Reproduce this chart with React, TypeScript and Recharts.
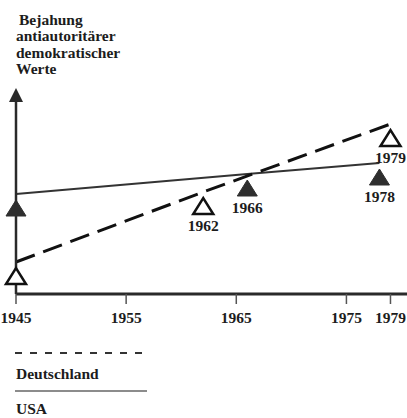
import React from 'react';
import { LineChart, Line, XAxis, YAxis, Customized } from 'recharts';

// ---- data ----
const deutschlandYears = [1945, 1962, 1979];
const deutschlandValues = [16, 51, 85];
const usaYears = [1945, 1966, 1978];
const usaValues = [50, 60, 65.5];
const xTicks = [1945, 1955, 1965, 1975, 1979];
const titleLines = ['Bejahung', 'antiautoritärer', 'demokratischer', 'Werte'];
const seriesNames = ['Deutschland', 'USA'];

const deutschlandData = deutschlandYears.map((year, i) => ({ year, value: deutschlandValues[i] }));
const usaData = usaYears.map((year, i) => ({ year, value: usaValues[i] }));

// ---- layout / style ----
const W = 407;
const H = 418;
const MARGIN = { top: 94, right: 0, bottom: 94, left: 0 };
const Y_AXIS_W = 16;
const FONT = '"Liberation Serif", "Times New Roman", serif';
const INK = '#1c1c1c';

const makeTriangleDot = (filled: boolean) => (props: any) => {
  const { cx, cy, payload, index } = props;
  if (cx == null || cy == null) return <g key={`n-${index}`} />;
  const apex = cy + 6;
  const base = cy + 22;
  const hw = 10;
  return (
    <g key={`t-${filled ? 'f' : 'h'}-${index}`}>
      <polygon
        points={`${cx - hw},${base} ${cx + hw},${base} ${cx},${apex}`}
        fill={filled ? '#2e2e2e' : '#ffffff'}
        stroke={filled ? '#2e2e2e' : '#111'}
        strokeWidth={filled ? 1 : 2.5}
        strokeLinejoin="miter"
      />
      {index > 0 && (
        <text
          x={cx}
          y={base + 17}
          textAnchor="middle"
          fontFamily={FONT}
          fontWeight={700}
          fontSize={15.5}
          fill={INK}
        >
          {payload.year}
        </text>
      )}
    </g>
  );
};

const Overlay = () => {
  const ax = MARGIN.left + Y_AXIS_W;
  const ay = MARGIN.top;
  return (
    <g>
      <polygon points={`${ax - 7},${ay + 8} ${ax + 7},${ay + 8} ${ax},${ay - 6}`} fill="#2a2a2a" />
      {titleLines.map((t, i) => (
        <text
          key={t}
          x={i === 0 ? 19 : 16}
          y={25 + i * 16.3}
          fontFamily={FONT}
          fontWeight={700}
          fontSize={15.5}
          fill={INK}
        >
          {t}
        </text>
      ))}
      {/* legend */}
      <line x1={15} x2={145} y1={353} y2={353} stroke="#333" strokeWidth={2} strokeDasharray="7 8" />
      <text x={16} y={379} fontFamily={FONT} fontWeight={700} fontSize={15.5} fill={INK}>
        {seriesNames[0]}
      </text>
      <line x1={15} x2={147} y1={391} y2={391} stroke="#666" strokeWidth={1.5} />
      <text x={16} y={414} fontFamily={FONT} fontWeight={700} fontSize={15.5} fill={INK}>
        {seriesNames[1]}
      </text>
    </g>
  );
};

export default function App() {
  return (
    <div style={{ position: 'absolute', left: 0, top: 0, width: W, height: H, background: '#fff' }}>
      <LineChart width={W} height={H} margin={MARGIN}>
        <XAxis
          dataKey="year"
          type="number"
          domain={[1945, 1980.5]}
          ticks={xTicks}
          interval={0}
          height={30}
          tickSize={10}
          tickMargin={8}
          axisLine={{ stroke: '#2a2a2a', strokeWidth: 3 }}
          tickLine={{ stroke: '#555', strokeWidth: 1.5 }}
          tick={{ fontFamily: FONT, fontWeight: 700, fontSize: 15.5, fill: INK }}
        />
        <YAxis
          type="number"
          domain={[0, 100]}
          width={Y_AXIS_W}
          tick={false}
          tickLine={false}
          axisLine={{ stroke: '#2a2a2a', strokeWidth: 2.5 }}
        />
        <Line
          data={usaData}
          dataKey="value"
          name={seriesNames[1]}
          type="linear"
          stroke="#333"
          strokeWidth={2}
          dot={makeTriangleDot(true)}
          activeDot={false}
          isAnimationActive={false}
        />
        <Line
          data={deutschlandData}
          dataKey="value"
          name={seriesNames[0]}
          type="linear"
          stroke="#111"
          strokeWidth={3}
          strokeDasharray="20 9"
          dot={makeTriangleDot(false)}
          activeDot={false}
          isAnimationActive={false}
        />
        <Customized component={<Overlay />} />
      </LineChart>
    </div>
  );
}
